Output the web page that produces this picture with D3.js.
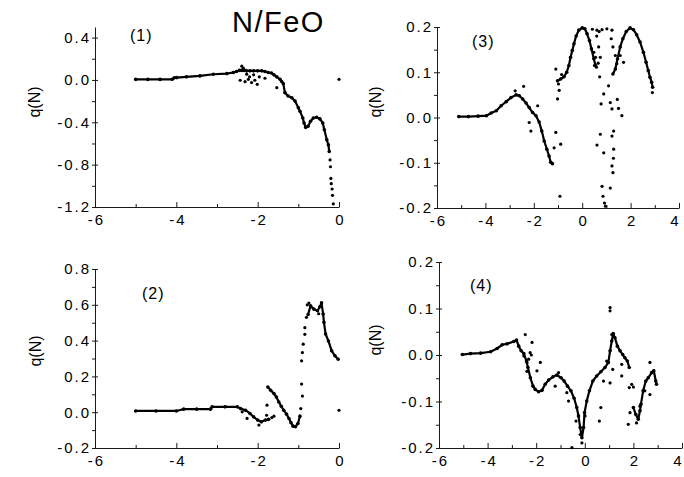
<!DOCTYPE html>
<html>
<head>
<meta charset="utf-8">
<script src="https://cdn.jsdelivr.net/npm/d3@7"></script>
<style>
  body { margin: 0; background: #fff; }
  text { font-family: Arial, "Liberation Sans", sans-serif; fill: #000; }
</style>
</head>
<body>
<div id="chart"></div>
<script>
// ---- data ----
var title = "N/FeO";
var yLabel = "q(N)";
var panelNames = ["(1)", "(2)", "(3)", "(4)"];

// panel (1)
var p1X = [-5.0, -4.7, -4.4, -4.1, -4.05, -3.99, -3.75, -3.42, -3.09, -2.76, -2.6, -2.52, -2.45, -2.39, -2.33, -2.27, -2.19, -2.1, -2.0, -1.9, -1.82, -1.74, -1.66, -1.6, -1.53, -1.45, -1.41, -1.37, -1.33, -1.25, -1.16, -1.08, -1.0, -0.96, -0.89, -0.86, -0.82, -0.76, -0.70, -0.63, -0.55, -0.47, -0.40, -0.36, -0.30, -0.26, -0.24];
var p1Y = [0.005, 0.005, 0.005, 0.006, 0.02, 0.022, 0.029, 0.038, 0.054, 0.06, 0.07, 0.08, 0.09, 0.09, 0.09, 0.086, 0.086, 0.086, 0.086, 0.086, 0.08, 0.07, 0.065, 0.048, 0.029, 0.006, -0.015, -0.035, -0.12, -0.152, -0.168, -0.2, -0.263, -0.295, -0.359, -0.406, -0.448, -0.438, -0.39, -0.359, -0.352, -0.368, -0.406, -0.47, -0.565, -0.613, -0.676];
var p1ScatX = [-2.39, -2.35, -2.43, -2.31, -2.23, -2.15, -2.07, -2.01, -1.96, -1.82, -1.53, -2.27, -2.1, -2.2, -0.22, -0.21, -0.2, -0.19, -0.17, -0.16, -0.14, 0.0];
var p1ScatY = [0.13, 0.11, -0.003, -0.016, 0.006, -0.025, -0.003, -0.041, 0.029, 0.016, -0.073, 0.054, 0.048, 0.03, -0.755, -0.82, -0.93, -0.98, -1.03, -1.09, -1.17, 0.006];

// panel (2)
var p2X = [-5.0, -4.5, -4.0, -3.82, -3.5, -3.16, -3.12, -2.8, -2.5, -2.42, -2.3, -2.19, -2.1, -2.0, -1.91, -1.81, -1.73, -1.72, -1.75, -1.68, -1.6, -1.54, -1.48, -1.42, -1.36, -1.29, -1.23, -1.18, -1.13, -1.07, -1.01, -0.96, -0.95, -0.76, -0.7, -0.62, -0.53, -0.47, -0.43, -0.39, -0.37, -0.33, -0.26, -0.18, -0.1, -0.02];
var p2Y = [0.007, 0.007, 0.007, 0.017, 0.017, 0.017, 0.03, 0.03, 0.03, 0.02, 0.011, -0.007, -0.026, -0.044, -0.054, -0.044, -0.04, null, 0.141, 0.122, 0.104, 0.085, 0.057, 0.033, 0.011, -0.011, -0.035, -0.059, -0.078, -0.081, -0.063, -0.022, null, 0.546, 0.594, 0.576, 0.567, 0.589, 0.611, 0.548, 0.502, 0.437, 0.398, 0.343, 0.315, 0.296];
var p2ScatX = [-0.94, -0.92, -0.92, -0.90, -0.88, -0.84, -0.84, -0.8, -0.78, -0.74, -1.77, -1.78, -1.6, -1.65, -2.26, -1.97, -2.38, 0.0, -0.9, -0.5];
var p2ScatY = [0.02, 0.157, 0.287, 0.333, 0.38, 0.435, 0.472, 0.53, 0.6, 0.61, 0.039, -0.017, -0.022, -0.03, -0.035, -0.072, 0.002, 0.011, 0.09, 0.55];

// panel (3)
var p3X = [-5.1, -4.7, -4.3, -3.96, -3.76, -3.55, -3.35, -3.14, -2.94, -2.73, -2.6, -2.46, -2.32, -2.19, -2.05, -1.91, -1.78, -1.67, -1.57, -1.46, -1.37, -1.3, -1.23, -1.1, -1.02, -0.89, -0.75, -0.64, -0.55, -0.48, -0.41, -0.34, -0.25, -0.14, 0, 0.11, 0.2, 0.3, 0.38, 0.48, 0.55, 0.9, 1.27, 1.37, 1.46, 1.57, 1.68, 1.82, 1.98, 2.12, 2.25, 2.39, 2.53, 2.64, 2.73, 2.8, 2.87, 2.91];
var p3Y = [0.002, 0.002, 0.003, 0.004, 0.01, 0.015, 0.026, 0.035, 0.044, 0.05, 0.048, 0.041, 0.032, 0.022, 0.011, 0.004, -0.01, -0.03, -0.052, -0.07, -0.085, -0.099, -0.102, null, 0.081, 0.085, 0.09, 0.1, 0.115, 0.133, 0.148, 0.163, 0.18, 0.193, 0.198, 0.196, 0.185, 0.17, 0.152, 0.13, 0.115, null, 0.096, 0.107, 0.13, 0.156, 0.174, 0.19, 0.198, 0.194, 0.183, 0.167, 0.144, 0.122, 0.104, 0.089, 0.078, 0.067];
var p3ScatX = [-1.09, -0.98, -1.02, -1.09, -1.16, -0.89, -0.92, -2.42, -2.77, -1.84, -2.19, -2.12, 0.61, 0.82, 1.02, 1.23, 0.48, 0.55, 0.51, 0.59, 0.68, 0.75, 0.78, 0.89, 1.09, 0.75, 0.61, 0.89, 0.82, 0.86, 0.92, 0.96, 1.2, 1.27, 1.37, 1.43, 1.16, 1.23, 1.3, 1.23, 1.3, 1.23, 1.27, 1.16, 1.64, 1.71, 1.57, 0.42, 0.7, -0.95, -0.85, 1.29, 1.45, 1.5, 0.72, 0.66, 0.6, 2.9];
var p3ScatY = [0.107, 0.074, 0.041, -0.033, -0.067, -0.059, -0.174, 0.069, 0.059, 0.026, -0.011, -0.03, 0.193, 0.194, 0.196, 0.193, 0.144, 0.133, 0.115, 0.111, 0.156, 0.133, 0.03, 0.052, 0.07, -0.037, -0.061, -0.078, -0.152, -0.174, -0.189, -0.196, 0.174, 0.156, 0.137, 0.119, 0.033, 0.019, -0.03, -0.041, -0.07, -0.107, -0.122, -0.156, 0.004, 0.122, 0.137, 0.195, 0.19, 0.06, 0.095, -0.09, 0.04, 0.02, 0.09, 0.12, 0.18, 0.055];

// panel (4)
var p4X = [-5.04, -4.7, -4.29, -3.88, -3.61, -3.4, -3.2, -2.92, -2.81, -2.72, -2.62, -2.51, -2.4, -2.34, -2.24, -2.13, -2.04, -1.9, -1.76, -1.63, -1.49, -1.31, -1.15, -0.98, -0.85, -0.71, -0.57, -0.44, -0.33, -0.26, -0.19, -0.12, -0.05, -0.01, 0.08, 0.19, 0.33, 0.49, 0.66, 0.83, 0.97, 1.04, 1.11, 1.17, 1.24, 1.34, 1.45, 1.56, 1.65, 1.75, 1.83, 1.93, 2.0, 2.1, 2.2, 2.27, 2.31, 2.4, 2.51, 2.61, 2.75, 2.84, 2.92, 2.95];
var p4Y = [0.001, 0.003, 0.004, 0.007, 0.014, 0.022, 0.024, 0.029, 0.032, 0.019, 0.009, 0.003, -0.013, -0.027, -0.049, -0.067, -0.074, -0.079, -0.076, -0.063, -0.054, -0.047, -0.043, -0.049, -0.056, -0.067, -0.077, -0.093, -0.113, -0.131, -0.156, -0.178, -0.156, -0.124, -0.099, -0.077, -0.056, -0.045, -0.036, -0.027, -0.016, 0.009, 0.03, 0.046, 0.037, 0.019, 0.009, 0.001, -0.006, -0.013, -0.027, null, -0.113, -0.128, -0.138, -0.12, -0.106, -0.077, -0.056, -0.049, -0.038, -0.034, -0.056, -0.063];
var p4ScatX = [-2.45, -2.17, -2.38, -2.38, -1.97, -1.83, -2.51, -2.31, -1.08, -1.22, -0.74, -0.67, -0.36, -0.53, -0.19, -0.12, 0.01, 0.66, 0.6, 1.04, 1.04, 1.11, 0.9, 1.04, 0.77, 1.15, 1.52, 1.52, 1.83, 1.79, 1.86, 2.27, 2.13, 2.68, 2.68, 2.47, 2.0, 1.93, -2.2, -2.25];
var p4ScatY = [0.044, 0.027, -0.016, -0.035, -0.034, -0.016, -0.002, -0.009, -0.038, -0.067, -0.081, -0.099, -0.142, -0.199, -0.171, -0.189, -0.131, -0.113, -0.142, 0.095, 0.102, 0.044, -0.013, -0.06, -0.056, -0.031, -0.02, -0.045, -0.07, -0.149, -0.124, -0.11, -0.146, -0.016, -0.085, -0.077, -0.069, -0.063, 0.0, 0.005];

// tick values
var xTicksLeft = [-6, -4, -2, 0];
var xMinorLeft = [-5, -3, -1];
var xTicksRight = [-6, -4, -2, 0, 2, 4];
var xMinorRight = [-5, -3, -1, 1, 3];
var p1YTicks = [-1.2, -0.8, -0.4, 0.0, 0.4];
var p1YMinor = [-1.0, -0.6, -0.2, 0.2];
var p2YTicks = [-0.2, 0.0, 0.2, 0.4, 0.6, 0.8];
var p2YMinor = [-0.1, 0.1, 0.3, 0.5, 0.7];
var p34YTicks = [-0.2, -0.1, 0.0, 0.1, 0.2];
var p34YMinor = [-0.15, -0.05, 0.05, 0.15];

// ---- layout ----
var panels = [
  {name: panelNames[0], xs: p1X, ys: p1Y, sx: p1ScatX, sy: p1ScatY, left: 95, right: 339, top: 27, bottom: 207,
   xDom: [-6, 0], yDom: [-1.2, 0.5], xT: xTicksLeft, xM: xMinorLeft, yT: p1YTicks, yM: p1YMinor,
   lab: [130, 41], yl: [40, 102]},
  {name: panelNames[1], xs: p2X, ys: p2Y, sx: p2ScatX, sy: p2ScatY, left: 95, right: 339, top: 269, bottom: 448,
   xDom: [-6, 0], yDom: [-0.2, 0.8], xT: xTicksLeft, xM: xMinorLeft, yT: p2YTicks, yM: p2YMinor,
   lab: [142, 299], yl: [41, 351]},
  {name: panelNames[2], xs: p3X, ys: p3Y, sx: p3ScatX, sy: p3ScatY, left: 437, right: 679, top: 27, bottom: 208,
   xDom: [-6, 4], yDom: [-0.2, 0.2], xT: xTicksRight, xM: xMinorRight, yT: p34YTicks, yM: p34YMinor,
   lab: [472, 47], yl: [381, 102]},
  {name: panelNames[3], xs: p4X, ys: p4Y, sx: p4ScatX, sy: p4ScatY, left: 439, right: 682, top: 262, bottom: 448,
   xDom: [-6, 4], yDom: [-0.2, 0.2], xT: xTicksRight, xM: xMinorRight, yT: p34YTicks, yM: p34YMinor,
   lab: [470, 291], yl: [381, 340]}
];

var svg = d3.select("#chart").append("svg")
    .attr("width", 684)
    .attr("height", 477);

var axisColor = "#1a1a1a";

function styleAxis(sel) {
  sel.attr("font-family", "Arial, 'Liberation Sans', sans-serif")
     .attr("font-size", 15);
  sel.selectAll("line").attr("stroke", axisColor);
  sel.selectAll("path").attr("stroke", axisColor);
  sel.selectAll("text").attr("fill", "#000").style("letter-spacing", "2px");
}

panels.forEach(function(p) {
  var x = d3.scaleLinear().domain(p.xDom).range([p.left, p.right]);
  var y = d3.scaleLinear().domain(p.yDom).range([p.bottom, p.top]);
  var g = svg.append("g");

  // x axis: inward ticks
  g.append("g")
      .attr("transform", "translate(0," + p.bottom + ")")
      .call(d3.axisBottom(x).tickValues(p.xM).tickSize(-3).tickSizeOuter(0).tickFormat(""))
      .call(function(a) { a.select(".domain").remove(); })
      .call(styleAxis);
  g.append("g")
      .attr("transform", "translate(0," + p.bottom + ")")
      .call(d3.axisBottom(x).tickValues(p.xT).tickSize(-5).tickSizeOuter(0).tickPadding(7)
        .tickFormat(function(d) { return String(d); }))
      .call(styleAxis)
      .selectAll("text")
        .attr("dx", function(d) { return x(d) > 670 ? "-4px" : "1px"; });

  // y axis: major ticks cross the line, minor ticks outside
  g.append("g")
      .attr("transform", "translate(" + p.left + ",0)")
      .call(d3.axisLeft(y).tickValues(p.yM).tickSize(3).tickSizeOuter(0).tickFormat(""))
      .call(function(a) { a.select(".domain").remove(); })
      .call(styleAxis);
  g.append("g")
      .attr("transform", "translate(" + p.left + ",0)")
      .call(d3.axisLeft(y).tickValues(p.yT).tickSize(-3).tickSizeOuter(0).tickFormat(""))
      .call(function(a) { a.select(".domain").remove(); })
      .call(styleAxis);
  g.append("g")
      .attr("transform", "translate(" + p.left + ",0)")
      .call(d3.axisLeft(y).tickValues(p.yT).tickSize(3).tickSizeOuter(0).tickPadding(1)
        .tickFormat(function(d) { return d.toFixed(1); }))
      .call(styleAxis);

  // data: connected main curve + dots + scattered points
  var pts = p.xs.map(function(v, i) { return {x: v, y: p.ys[i]}; });
  var line = d3.line()
      .defined(function(d) { return d.y !== null; })
      .x(function(d) { return x(d.x); })
      .y(function(d) { return y(d.y); });
  g.append("path")
      .datum(pts)
      .attr("d", line)
      .attr("fill", "none")
      .attr("stroke", "#000")
      .attr("stroke-width", 2.2)
      .attr("stroke-linejoin", "round");
  g.selectAll("circle.main")
      .data(pts.filter(function(d) { return d.y !== null; }))
      .enter().append("circle")
      .attr("class", "main")
      .attr("cx", function(d) { return x(d.x); })
      .attr("cy", function(d) { return y(d.y); })
      .attr("r", 1.8)
      .attr("fill", "#000");
  var scat = p.sx.map(function(v, i) { return {x: v, y: p.sy[i]}; });
  g.selectAll("circle.scat")
      .data(scat)
      .enter().append("circle")
      .attr("class", "scat")
      .attr("cx", function(d) { return x(d.x); })
      .attr("cy", function(d) { return y(d.y); })
      .attr("r", 1.6)
      .attr("fill", "#000");

  // labels
  g.append("text")
      .attr("x", p.lab[0])
      .attr("y", p.lab[1])
      .attr("font-size", 16)
      .style("letter-spacing", "1px")
      .text(p.name);
  g.append("text")
      .attr("transform", "translate(" + p.yl[0] + "," + p.yl[1] + ") rotate(-90)")
      .attr("text-anchor", "middle")
      .attr("font-size", 16)
      .text(yLabel);
});

svg.append("text")
    .attr("x", 232)
    .attr("y", 32)
    .attr("font-size", 29)
    .style("letter-spacing", "1.5px")
    .text(title);
</script>
</body>
</html>
